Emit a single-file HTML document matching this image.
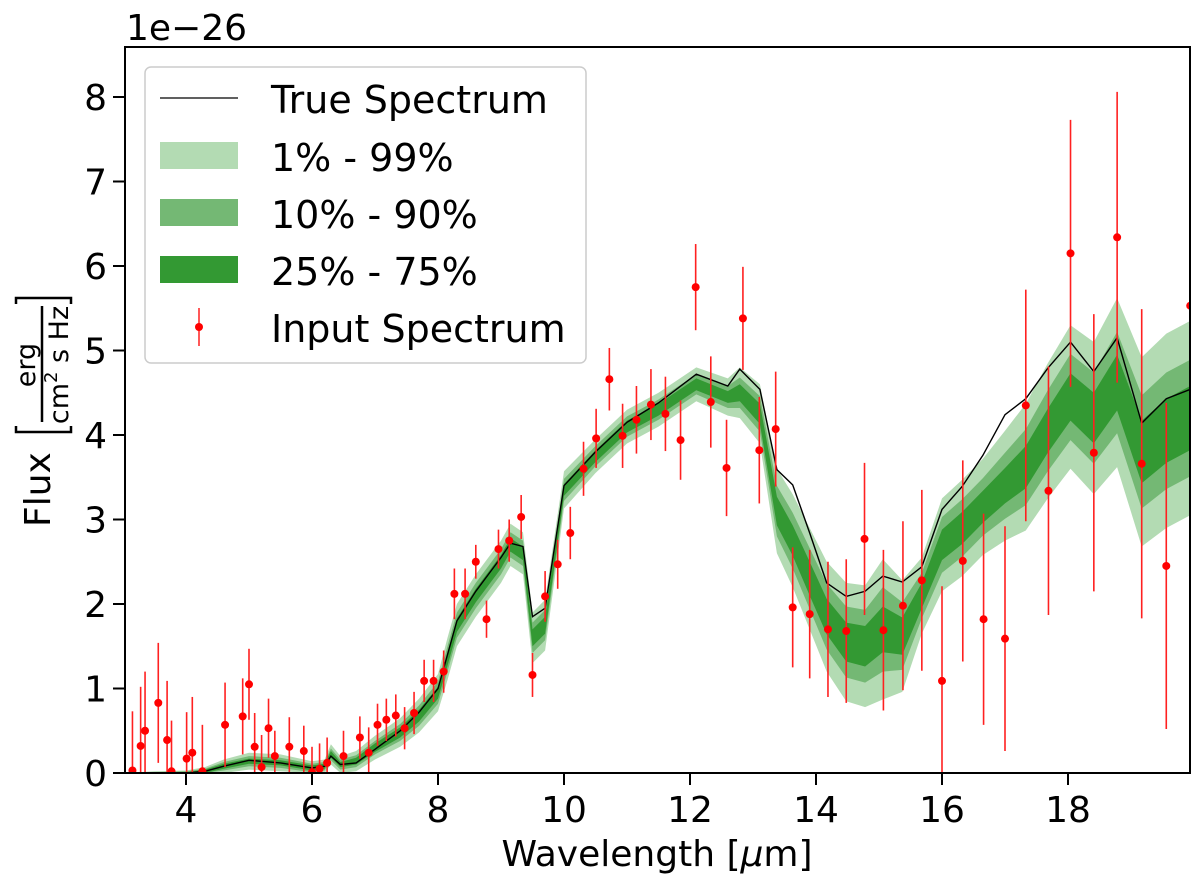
<!DOCTYPE html>
<html><head><meta charset="utf-8"><style>
body{margin:0;background:#fff;}
svg{display:block;font-family:"DejaVu Sans","Liberation Sans",sans-serif;}
</style></head><body>
<svg id="chart" width="1200" height="894" viewBox="0 0 1200 894">
<defs><clipPath id="plotclip"><rect x="125" y="47" width="1065" height="726"/></clipPath></defs>
<g id="bands" clip-path="url(#plotclip)"></g>
<g id="trueline" clip-path="url(#plotclip)"></g>
<g id="points" clip-path="url(#plotclip)"></g>
<rect x="125" y="47" width="1065" height="726" fill="none" stroke="#000" stroke-width="2"/>
<g id="xticks"></g>
<g id="yticks"></g>
<text x="126" y="40" font-size="36">1e−26</text>
<text x="657" y="866" font-size="36" text-anchor="middle">Wavelength [<tspan font-style="italic">μ</tspan>m]</text>
<g transform="translate(50,410) rotate(-90)">
  <text x="-117" y="0" font-size="36">Flux</text>
  <path d="M-16,-34 L-22,-34 L-22,21 L-16,21" fill="none" stroke="#000" stroke-width="2.5"/>
  <text x="45" y="-15" font-size="27" text-anchor="middle">erg</text>
  <line x1="-12" y1="-8" x2="104" y2="-8" stroke="#000" stroke-width="2.5"/>
  <text x="45" y="18" font-size="27" text-anchor="middle">cm<tspan font-size="18" dy="-11">2</tspan><tspan dy="11"> s Hz</tspan></text>
  <path d="M106,-34 L112,-34 L112,21 L106,21" fill="none" stroke="#000" stroke-width="2.5"/>
</g>
<g>
  <rect x="145" y="67" width="441" height="296" rx="6" fill="#fff" fill-opacity="0.85" stroke="#ccc" stroke-width="1.5"/>
  <line x1="160" y1="98" x2="238" y2="98" stroke="#000" stroke-width="1.3"/>
  <text x="271" y="113" font-size="38">True Spectrum</text>
  <rect x="160" y="142" width="78" height="27" fill="#b3dbb3"/>
  <text x="271" y="171" font-size="38">1% - 99%</text>
  <rect x="160" y="199" width="78" height="27" fill="#74b874"/>
  <text x="271" y="228" font-size="38">10% - 90%</text>
  <rect x="160" y="256" width="78" height="27" fill="#339933"/>
  <text x="271" y="285" font-size="38">25% - 75%</text>
  <line x1="199" y1="308" x2="199" y2="346" stroke="#ff2020" stroke-width="1.5"/>
  <circle cx="199" cy="327" r="4" fill="#ff0000"/>
  <text x="271" y="342" font-size="38">Input Spectrum</text>
</g>
</svg>
<script>
const gridX = [3.03,3.5,4.0,4.3,4.6,5.0,5.5,6.0,6.2,6.3,6.45,6.7,7.0,7.4,7.7,8.0,8.15,8.3,8.6,9.0,9.15,9.35,9.5,9.7,10.0,10.5,11.0,11.5,12.1,12.6,12.79,13.11,13.38,13.63,13.9,14.17,14.48,14.78,15.06,15.37,15.68,16.0,16.32,16.65,17.0,17.33,17.68,18.04,18.41,18.78,19.17,19.56,19.94];
const trueFlux = [0,0,0,0.02,0.08,0.15,0.12,0.06,0.08,0.2,0.1,0.12,0.28,0.5,0.72,1.0,1.4,1.8,2.15,2.55,2.72,2.68,1.85,1.95,3.4,3.8,4.15,4.38,4.72,4.58,4.78,4.54,3.59,3.41,2.84,2.25,2.09,2.15,2.33,2.26,2.44,3.12,3.39,3.76,4.24,4.43,4.79,5.1,4.75,5.15,4.14,4.43,4.54];
const medianFlux = [0,0,0,0.02,0.08,0.14,0.12,0.06,0.08,0.22,0.1,0.14,0.3,0.48,0.68,0.95,1.35,1.75,2.1,2.5,2.7,2.6,1.6,1.75,3.35,3.75,4.1,4.3,4.6,4.45,4.5,4.25,3.1,2.75,2.3,1.85,1.55,1.5,1.7,1.62,2.1,2.7,2.9,3.15,3.4,3.62,4.05,4.45,4.2,4.62,3.8,4.05,4.2];
const halfWidth1 = [0,0.02,0.03,0.05,0.08,0.1,0.1,0.08,0.08,0.12,0.1,0.12,0.14,0.17,0.2,0.22,0.25,0.25,0.25,0.25,0.25,0.25,0.3,0.3,0.22,0.2,0.2,0.2,0.2,0.22,0.3,0.35,0.5,0.55,0.6,0.65,0.7,0.72,0.83,0.66,0.45,0.55,0.57,0.57,0.65,0.75,0.8,0.85,0.9,1.0,1.12,1.15,1.15];
const halfWidth10 = [0,0.01,0.02,0.03,0.05,0.06,0.06,0.05,0.05,0.07,0.06,0.07,0.08,0.1,0.12,0.13,0.15,0.15,0.15,0.15,0.15,0.15,0.18,0.18,0.13,0.12,0.12,0.12,0.12,0.13,0.18,0.21,0.3,0.33,0.36,0.39,0.42,0.43,0.5,0.4,0.27,0.33,0.34,0.34,0.39,0.45,0.48,0.51,0.54,0.6,0.67,0.69,0.69];
const halfWidth25 = [0,0.01,0.01,0.02,0.03,0.03,0.03,0.03,0.03,0.04,0.03,0.04,0.05,0.06,0.07,0.07,0.08,0.08,0.08,0.08,0.08,0.08,0.1,0.1,0.07,0.07,0.07,0.07,0.07,0.07,0.1,0.12,0.17,0.18,0.2,0.21,0.23,0.24,0.27,0.22,0.15,0.18,0.19,0.19,0.21,0.25,0.26,0.28,0.3,0.33,0.37,0.38,0.38];
const obsX = [3.15,3.28,3.35,3.56,3.7,3.77,4.01,4.1,4.26,4.62,4.9,5.0,5.09,5.2,5.31,5.41,5.64,5.87,6.0,6.12,6.24,6.5,6.76,6.9,7.04,7.18,7.33,7.47,7.62,7.78,7.93,8.09,8.26,8.43,8.6,8.77,8.96,9.13,9.32,9.5,9.7,9.9,10.1,10.31,10.51,10.72,10.93,11.15,11.38,11.61,11.85,12.09,12.33,12.58,12.84,13.1,13.36,13.63,13.9,14.19,14.48,14.77,15.07,15.38,15.68,16.0,16.33,16.66,17.0,17.33,17.69,18.04,18.41,18.78,19.17,19.56,19.94];
const obsFlux = [0.03,0.32,0.5,0.83,0.39,0.02,0.17,0.24,0.02,0.57,0.67,1.05,0.31,0.07,0.53,0.2,0.31,0.26,0.01,0.05,0.12,0.2,0.42,0.24,0.57,0.63,0.68,0.53,0.71,1.09,1.09,1.2,2.12,2.12,2.5,1.82,2.65,2.75,3.03,1.16,2.09,2.47,2.84,3.6,3.96,4.66,3.99,4.18,4.36,4.25,3.94,5.75,4.39,3.61,5.38,3.82,4.07,1.96,1.88,1.7,1.68,2.77,1.69,1.98,2.28,1.09,2.51,1.82,1.59,4.35,3.34,6.15,3.79,6.34,3.66,2.45,5.53];
const obsErr = [0.7,0.7,0.7,0.71,0.7,0.6,0.55,0.66,0.55,0.5,0.45,0.42,0.4,0.38,0.35,0.3,0.35,0.3,0.3,0.3,0.3,0.3,0.25,0.3,0.25,0.25,0.25,0.25,0.25,0.25,0.25,0.25,0.3,0.3,0.2,0.22,0.23,0.25,0.26,0.26,0.3,0.29,0.31,0.32,0.35,0.37,0.38,0.4,0.42,0.44,0.47,0.51,0.54,0.57,0.61,0.63,0.68,0.71,0.76,0.8,0.85,0.9,0.95,1.0,1.07,1.12,1.19,1.25,1.33,1.37,1.47,1.58,1.64,1.72,1.83,1.93,1.93];
const xTickValues = [4,6,8,10,12,14,16,18];
const yTickValues = [0,1,2,3,4,5,6,7,8];

const NS = "http://www.w3.org/2000/svg";
const X0 = 186, XPER = 63, Y0 = 773, YPER = 84.5;
function sx(v){ return X0 + (v - 4) * XPER; }
function sy(v){ return Y0 - v * YPER; }
function mk(tag, attrs, parent){ const e = document.createElementNS(NS, tag); for (const k in attrs) e.setAttribute(k, attrs[k]); parent.appendChild(e); return e; }

function bandPath(hw){
  let up = gridX.map((x,i)=> sx(x).toFixed(1)+","+sy(medianFlux[i]+hw[i]).toFixed(1));
  let dn = gridX.map((x,i)=> sx(x).toFixed(1)+","+sy(Math.max(0,medianFlux[i]-hw[i])).toFixed(1)).reverse();
  return "M"+up.join(" L")+" L"+dn.join(" L")+" Z";
}
const bands = document.getElementById('bands');
const b1 = mk('path', {d: bandPath(halfWidth1), fill: '#b3dbb3'}, bands);


const b10 = mk('path', {d: bandPath(halfWidth10), fill: '#74b874'}, bands);


const b25 = mk('path', {d: bandPath(halfWidth25), fill: '#339933'}, bands);



const tl = mk('polyline', {points: gridX.map((x,i)=> sx(x).toFixed(1)+","+sy(trueFlux[i]).toFixed(1)).join(" "), fill:'none', stroke:'#000', 'stroke-width':1.4}, document.getElementById('trueline'));



const pts = document.getElementById('points');
obsX.forEach((x,i)=>{
  const cx = sx(x);
  const eb = mk('line', {x1:cx, x2:cx, y1:sy(obsFlux[i]-obsErr[i]), y2:sy(obsFlux[i]+obsErr[i]), stroke:'#ff2020', 'stroke-width':1.6}, pts);
  
  
  const c = mk('circle', {cx:cx, cy:sy(obsFlux[i]), r:4, fill:'#ff0000'}, pts);
  
  
});

const xt = document.getElementById('xticks');
xTickValues.forEach(v=>{
  const t = mk('line', {x1:sx(v), x2:sx(v), y1:773, y2:785, stroke:'#000', 'stroke-width':2}, xt);
  
  
  const l = mk('text', {x:sx(v), y:822, 'font-size':36, 'text-anchor':'middle'}, xt);
  l.textContent = v;
  
  
});
const yt = document.getElementById('yticks');
yTickValues.forEach(v=>{
  const t = mk('line', {x1:113, x2:125, y1:sy(v), y2:sy(v), stroke:'#000', 'stroke-width':2}, yt);
  
  
  const l = mk('text', {x:107, y:sy(v)+13, 'font-size':36, 'text-anchor':'end'}, yt);
  l.textContent = v;
  
  
});
</script>
</body></html>
